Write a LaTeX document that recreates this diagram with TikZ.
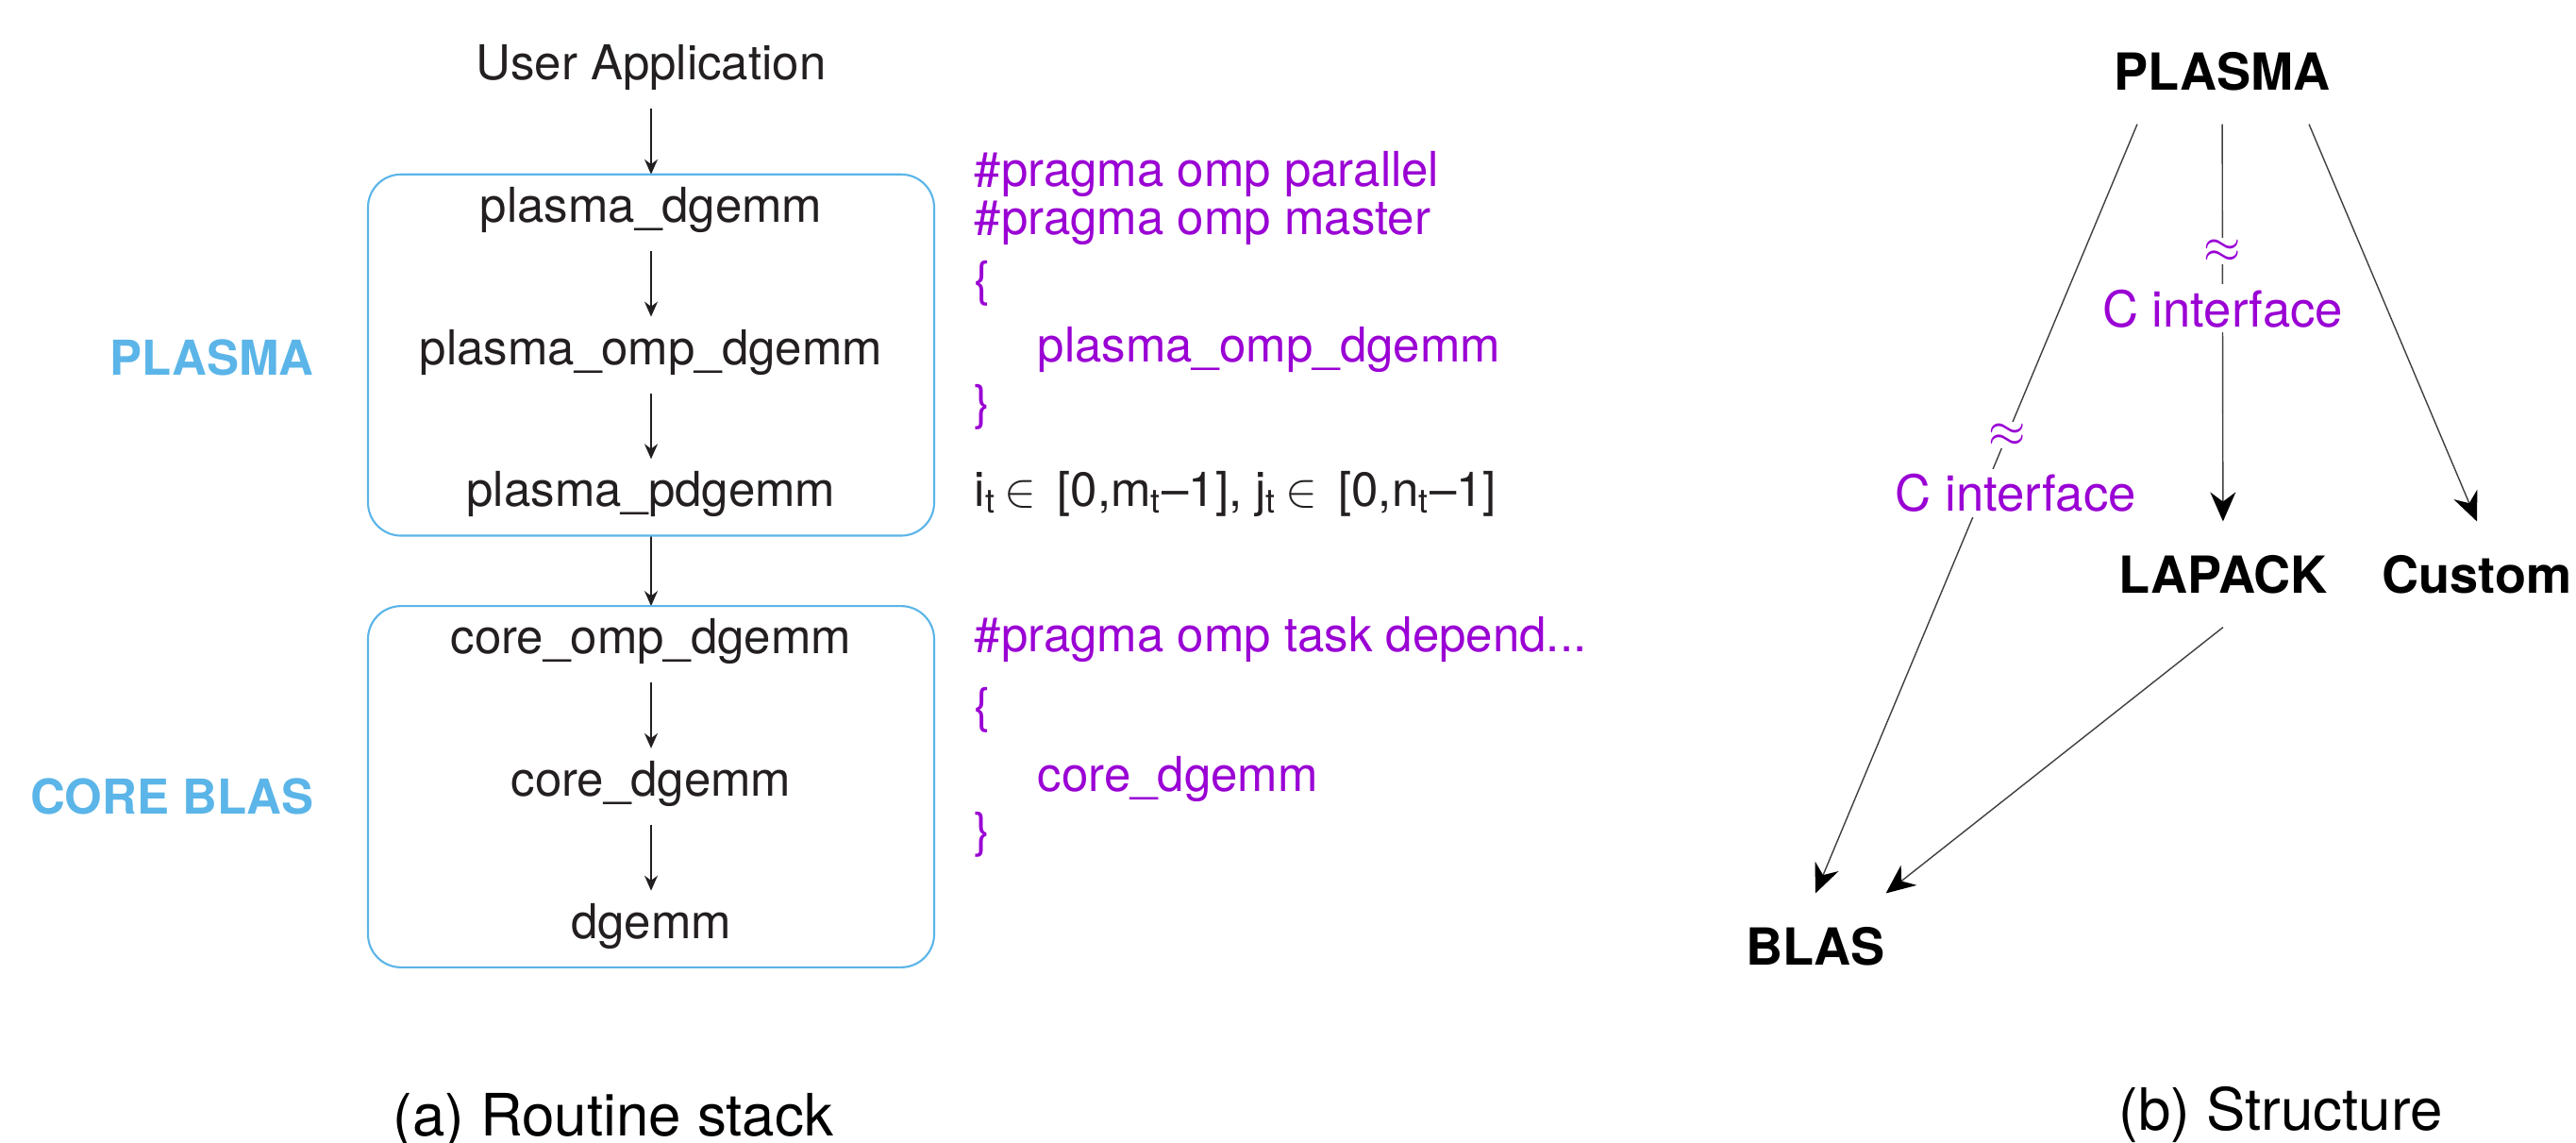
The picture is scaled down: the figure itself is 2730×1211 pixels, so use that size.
\documentclass[tikz,border=0pt]{standalone}
\usepackage{fontspec}
\setmainfont{TeX Gyre Heros}
\usepackage{xcolor}
\usetikzlibrary{matrix,fit,arrows.meta}

\definecolor{plasmablue}{HTML}{5BB5E8}
\definecolor{ompviolet}{HTML}{9A00D4}
\definecolor{inkgray}{HTML}{231F20}

\begin{document}
\begin{tikzpicture}[%
    x=0.1mm, y=-0.1mm,
    stack/.style={%
        matrix of nodes,
        row sep=7.1mm, % one routine per row
        inner sep=0pt,
        nodes={%
            font=\fontsize{14.5}{17}\selectfont,
            text=inkgray,
            text height=10.5pt,
            text depth=4.8pt,
            inner xsep=2pt,
            inner ysep=3.7pt,
            anchor=center,
        },
    },
    layer/.style={draw=plasmablue, line width=0.6pt, rounded corners=3.5mm,
        inner sep=0pt, minimum width=60mm},
    layername/.style={font=\fontsize{14.5}{17}\selectfont\bfseries,
        text=plasmablue, anchor=base east},
    call/.style={-{Stealth[length=1.6mm,width=1.4mm]}, line width=0.5pt, draw=inkgray},
    code/.style={font=\fontsize{14.5}{17}\selectfont, text=ompviolet,
        anchor=base west, inner sep=0pt},
    lib/.style={font=\fontsize{15.4}{18}\selectfont\bfseries, anchor=base,
        text height=11.1pt, text depth=0pt, inner xsep=0pt, inner ysep=10.2pt},
    dep/.style={-{Stealth[length=3.1mm,width=2.7mm,color=black]}, line width=0.4pt, draw=black!75},
    iface/.style={font=\fontsize{15}{18}\selectfont, text=ompviolet, fill=white, inner sep=1.5pt},
    approx/.style={font=\fontsize{14}{16}\selectfont, text=ompviolet, fill=white, inner sep=0.5pt},
    caption/.style={font=\fontsize{17.6}{21}\selectfont, anchor=base},
]
\fill[white] (0,0) rectangle (2730,1211);
\useasboundingbox (0,0) rectangle (2730,1211);

% (a) routine stack
\matrix[stack, anchor=north] (stk) at (690,34) {
    User Application \\
    plasma\_dgemm \\
    plasma\_omp\_dgemm \\
    plasma\_pdgemm \\[0.5mm]
    core\_omp\_dgemm \\
    core\_dgemm \\
    dgemm \\
};
\foreach \a/\b in {1/2,2/3,3/4,4/5,5/6,6/7}
    \draw[call] (stk-\a-1) -- (stk-\b-1);

% layers
\node[layer, fit=(stk-2-1)(stk-4-1)] (plasmabox) {};
\node[layer, fit=(stk-5-1)(stk-7-1)] (corebox) {};
\node[layername] (plasmalbl) at (345,397) {PLASMA};
\node[layername] (corelbl) at (345,862) {CORE BLAS};

% OpenMP code
\node[code] (omppar) at (1032,197) {\#pragma omp parallel};
\node[code] (ompmst) at (1032,248) {\#pragma omp master};
\node[code] (ompopen) at (1032,313) {\{};
\node[code] (ompcall) at (1099,383) {plasma\_omp\_dgemm};
\node[code] (ompclose) at (1032,444) {\}};
\node[code, text=inkgray] (tiles) at (1032,536)
    {i\textsubscript{t}\,$\in$\ \,[0,m\textsubscript{t}--1], j\textsubscript{t}\,$\in$\ \,[0,n\textsubscript{t}--1]};
\node[code] (task) at (1032,690) {\#pragma omp task depend...};
\node[code] (taskopen) at (1032,765) {\{};
\node[code] (taskcall) at (1099,838) {core\_dgemm};
\node[code] (taskclose) at (1032,897) {\}};

\node[caption] (capa) at (650,1203) {(a) Routine stack};

% (b) structure
\node[lib] (plasma) at (2355,95) {PLASMA};
\node[lib] (lapack) at (2356,628) {LAPACK};
\node[lib] (custom) at (2625,628) {Custom};
\node[lib] (blas) at (1924,1022) {BLAS};

\draw[dep] ([xshift=-9mm]plasma.south) --
    node[approx, pos=0.404] {$\approx$}
    node[iface, pos=0.48, xshift=3.5mm] {C interface} (blas.north);
\draw[dep] (plasma) --
    node[approx, pos=0.32] {$\approx$}
    node[iface, pos=0.464] {C interface} (lapack);
\draw[dep] ([xshift=9.2mm]plasma.south) -- (custom.north);
\draw[dep] (lapack.south) -- (blas.north east);

\node[caption] (capb) at (2417,1197) {(b) Structure};

\end{tikzpicture}
\end{document}
